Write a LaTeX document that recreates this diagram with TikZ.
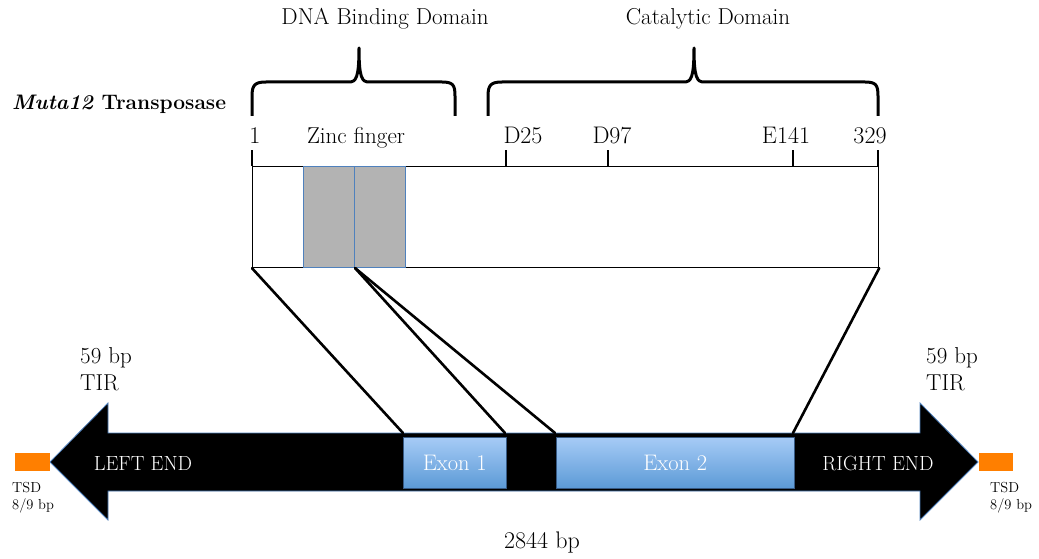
\documentclass[tikz,border=0pt]{standalone}
\usepackage{tikz}
\definecolor{edgeblue}{HTML}{4F81BD}
\definecolor{exontop}{HTML}{A6CBF6}
\definecolor{exonbot}{HTML}{5C9AD6}
\definecolor{fingergrey}{HTML}{B3B3B3}
\definecolor{tsdorange}{HTML}{FF7F00}
\tikzset{
  lbl/.style={font=\fontsize{23}{27}\selectfont, inner sep=0pt},
  numlbl/.style={font=\fontsize{24}{28}\selectfont, inner sep=0pt},
  endlbl/.style={font=\fontsize{20.5}{24}\selectfont, inner sep=0pt, text=white},
  small/.style={font=\fontsize{14.5}{17}\selectfont, inner sep=0pt, align=left},
  thickline/.style={line width=2.6pt, line cap=round, line join=round},
  brace/.style={line width=3pt, line join=round},
  tickmark/.style={line width=2.8pt},
  exon/.style={draw=edgeblue!70!black, line width=0.6pt, top color=exontop, bottom color=exonbot,
    text=white, font=\fontsize{22.5}{26}\selectfont, inner sep=0pt, anchor=north west},
  zinc/.style={fill=fingergrey, draw=edgeblue, line width=1pt, inner sep=0pt, anchor=north west},
  tsd/.style={fill=tsdorange, inner sep=0pt, anchor=north west},
}
\begin{document}
\begin{tikzpicture}[x=1pt,y=-1pt]
\path[use as bounding box] (0,0) rectangle (1039,559);

% domain headings and braces
\node[lbl, anchor=base] (dbdlab) at (385,25) {DNA Binding Domain};
\node[lbl, anchor=base] (catlab) at (708,25) {Catalytic Domain};
\draw[brace] (252,116) -- (252,96) .. controls (252,85) and (255,82) .. (266,82) -- (349,82)
  .. controls (356,82) and (359,78) .. (359,48)
  .. controls (359,78) and (362,82) .. (369,82) -- (442,82)
  .. controls (453,82) and (455,85) .. (455,96) -- (455,116);
\draw[brace] (488,116) -- (488,96) .. controls (488,85) and (491,82) .. (502,82) -- (684,82)
  .. controls (691,82) and (694,78) .. (694,48)
  .. controls (694,78) and (697,82) .. (704,82) -- (865,82)
  .. controls (876,82) and (878,85) .. (878,96) -- (878,116);

\node[font=\fontsize{21}{25}\selectfont\bfseries, inner sep=0pt, anchor=base west] (title) at (12,110)
  {\textit{Muta12} Transposase};

% protein bar
\node[draw, line width=1.2pt, minimum width=626pt, minimum height=101pt, inner sep=0pt, anchor=north west]
  (prot) at (252,166) {};
\node[zinc, minimum width=51pt, minimum height=101pt] (zf1) at (303,166) {};
\node[zinc, minimum width=51pt, minimum height=101pt] (zf2) at (354,166) {};

% residue ticks and labels
\foreach \n/\x/\lx/\t in {t1/252/255/1, d25/506/523/D25, d97/608/612/D97, e141/793/786/E141, t329/878/870/329}{
  \coordinate (\n) at (\x,166);
  \draw[tickmark] (\n) -- ++(0,-16);
  \node[numlbl, anchor=base] (\n lab) at (\lx,143) {\t};
}
\node[lbl, anchor=base] (zflab) at (356,143) {Zinc finger};

% element body: double-headed arrow
\path[fill=black, draw=edgeblue, line width=0.8pt, line join=miter]
  (50,462) -- (108,403) -- (108,433) -- (920,433) -- (920,403) -- (978,462)
  -- (920,520) -- (920,491) -- (108,491) -- (108,520) -- cycle;

\node[exon, minimum width=103pt, minimum height=51pt] (ex1) at (403,437) {Exon 1};
\node[exon, minimum width=238pt, minimum height=51pt] (ex2) at (556,437) {Exon 2};

\node[endlbl, anchor=base] (leftend) at (143,470) {LEFT END};
\node[endlbl, anchor=base] (rightend) at (878,470) {RIGHT END};

% connectors from protein to exons
\coordinate (c1) at (403,433);
\coordinate (c2) at (505,433);
\coordinate (c3) at (555,433);
\coordinate (c4) at (793,433);
\draw[thickline] (prot.south west) -- (c1);
\draw[thickline] (zf1.south east) -- (c2);
\draw[thickline] (zf1.south east) -- (c3);
\draw[thickline] (prot.south east) -- (c4);

% target site duplications
\node[tsd, minimum width=35pt, minimum height=18pt] (tsdl) at (15,453) {};
\node[tsd, minimum width=34pt, minimum height=18pt] (tsdr) at (979,453) {};
\node[small, anchor=base west] (tsdllab1) at (12,492) {TSD};
\node[small, anchor=base west] (tsdllab2) at (12,509) {8/9 bp};
\node[small, anchor=base west] (tsdrlab1) at (990,492) {TSD};
\node[small, anchor=base west] (tsdrlab2) at (990,509) {8/9 bp};

% terminal inverted repeats
\node[lbl, anchor=base west] (tirl1) at (80,363) {59 bp};
\node[lbl, anchor=base west] (tirl2) at (80,390) {TIR};
\node[lbl, anchor=base west] (tirr1) at (926,363) {59 bp};
\node[lbl, anchor=base west] (tirr2) at (926,390) {TIR};

\node[numlbl, anchor=base] (length) at (542,548) {2844 bp};
\end{tikzpicture}
\end{document}
